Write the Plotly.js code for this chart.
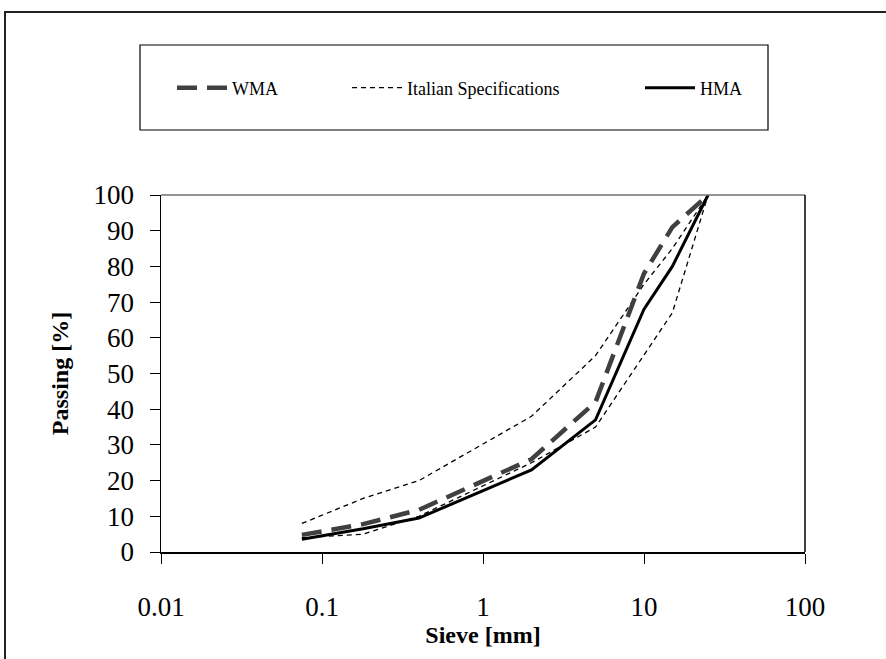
<!DOCTYPE html>
<html>
<head>
<meta charset="utf-8">
<script src="https://cdn.plot.ly/plotly-3.0.1.min.js"></script>
<style>html,body{margin:0;padding:0;background:#fff;}#chart{width:886px;height:659px;}</style>
</head>
<body>
<div id="chart"></div>
<script>
// Sieve sizes [mm]
const sieves = [0.075, 0.18, 0.4, 2, 5, 10, 15, 25];
// Passing [%]
const wma = [4.8, 7.8, 11.8, 26, 42, 78, 91, 100];
const hma = [3.6, 6.5, 9.5, 23, 37, 68, 80, 100];
const specUpper = [8, 15, 20, 38, 55, 75, 85, 100];
const specLower = [4, 5, 10, 25, 35, 55, 67, 100];
const xTickVals = [0.01, 0.1, 1, 10, 100];
const xTickText = ['0.01', '0.1', '1', '10', '100'];
const yTickVals = [0, 10, 20, 30, 40, 50, 60, 70, 80, 90, 100];

const serif = '"Liberation Serif", "Times New Roman", serif';
const W = 886, H = 659, L = 161, R = 805, T = 195, B = 552;
const px = v => (v - L) / (R - L);
const py = v => (B - v) / (B - T);

const traces = [
  {x: sieves, y: specUpper, mode: 'lines', name: 'Italian Specifications', legend: 'legend2',
   line: {color: '#000', width: 1.3, dash: '5px,4px'}},
  {x: sieves, y: specLower, mode: 'lines', name: 'Italian Specifications lower', showlegend: false,
   line: {color: '#000', width: 1.3, dash: '5px,4px'}},
  {x: sieves, y: hma, mode: 'lines', name: 'HMA', legend: 'legend3',
   line: {color: '#000', width: 3}},
  {x: sieves, y: wma, mode: 'lines', name: 'WMA', legend: 'legend',
   line: {color: '#404040', width: 4.5, dash: '20px,10px'}}
];

const legendBase = {
  orientation: 'h', yanchor: 'middle', xanchor: 'left', y: py(88),
  bgcolor: 'rgba(0,0,0,0)', borderwidth: 0, itemwidth: 50,
  font: {family: serif, size: 18, color: '#000'}
};

const layout = {
  width: W, height: H,
  font: {family: serif, color: '#000', size: 18},
  margin: {l: L, r: W - R, t: T, b: H - B, pad: 0},
  paper_bgcolor: '#fff', plot_bgcolor: '#fff',
  showlegend: true,
  legend: Object.assign({}, legendBase, {x: px(172)}),
  legend2: Object.assign({}, legendBase, {x: px(347)}),
  legend3: Object.assign({}, legendBase, {x: px(640)}),
  xaxis: {
    type: 'log', range: [-2, 2], tickvals: xTickVals, ticktext: xTickText,
    ticks: 'outside', ticklen: 10, tickwidth: 1, tickcolor: '#000',
    showline: true, linecolor: '#000', linewidth: 1.5, showgrid: false, zeroline: false,
    tickfont: {family: serif, size: 27, color: '#000'}, ticklabelstandoff: 20,
    title: {text: '<b>Sieve [mm]</b>', font: {family: serif, size: 24, color: '#000'}, standoff: 2}
  },
  yaxis: {
    range: [0, 100], tickvals: yTickVals,
    ticks: 'outside', ticklen: 10, tickwidth: 1, tickcolor: '#000',
    showline: true, linecolor: '#000', linewidth: 1.5, showgrid: false, zeroline: false,
    tickfont: {family: serif, size: 27, color: '#000'}, ticklabelstandoff: 10,
    title: {text: '<b>Passing [%]</b>', font: {family: serif, size: 24, color: '#000'}, standoff: 18}
  },
  shapes: [
    {type: 'line', xref: 'paper', yref: 'paper', x0: 0, x1: 1, y0: 1, y1: 1, line: {color: '#707070', width: 1.5}},
    {type: 'line', xref: 'paper', yref: 'paper', x0: 1, x1: 1, y0: 0, y1: 1, line: {color: '#000', width: 1.5}},
    {type: 'rect', xref: 'paper', yref: 'paper', x0: px(140), x1: px(768), y0: py(130), y1: py(45), line: {color: '#000', width: 1.2}},
    {type: 'rect', xref: 'paper', yref: 'paper', x0: px(5), x1: px(895), y0: py(670), y1: py(12), line: {color: '#222', width: 2}}
  ]
};

Plotly.newPlot('chart', traces, layout, {staticPlot: true, displayModeBar: false});
</script>
</body>
</html>
